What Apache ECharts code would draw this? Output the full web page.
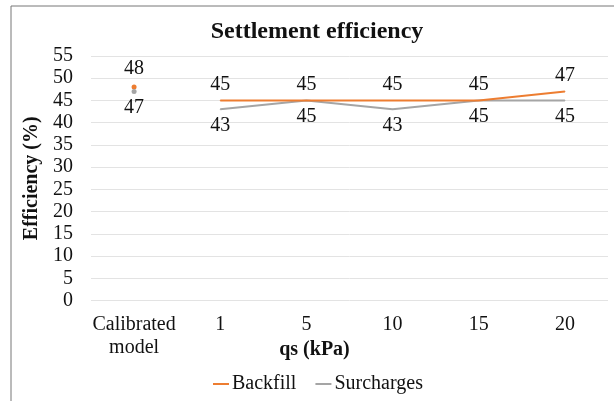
<!DOCTYPE html>
<html>
<head>
<meta charset="utf-8">
<script src="https://cdn.jsdelivr.net/npm/echarts@6/dist/echarts.min.js"></script>
<style>
  html, body { margin: 0; padding: 0; background: #fff; }
  #chart { width: 614px; height: 401px; }
</style>
</head>
<body>
<div id="chart"></div>
<script>
// Settlement efficiency versus surcharge pressure qs
const categories = ['Calibrated\nmodel', '1', '5', '10', '15', '20'];
const backfill = ['-', 45, 45, 45, 45, 47];
const surcharges = ['-', 43, 45, 43, 45, 45];
const calibratedBackfill = [48, '-', '-', '-', '-', '-'];
const calibratedSurcharges = [47, '-', '-', '-', '-', '-'];
const yTicks = { min: 0, max: 55, step: 5 };

const FONT = '"Liberation Serif", "Times New Roman", serif';
const ORANGE = '#ED7D31';
const GREY = '#A5A5A5';
const INK = '#111';

const chart = echarts.init(document.getElementById('chart'), null, { renderer: 'canvas' });

const labelStyle = (pos, dist) => ({
  show: true,
  position: pos,
  distance: dist,
  fontFamily: FONT,
  fontSize: 20,
  color: INK,
  opacity: 1
});

chart.setOption({
  animation: false,
  backgroundColor: '#fff',
  graphic: [{
    type: 'rect',
    shape: { x: 11, y: 6, width: 700, height: 500 },
    style: { fill: 'none', stroke: '#767676', lineWidth: 1 },
    z: -10,
    silent: true
  }],
  title: {
    text: 'Settlement efficiency',
    left: 312,
    textAlign: 'center',
    top: 15,
    textStyle: { fontFamily: FONT, fontSize: 24, fontWeight: 'bold', color: INK }
  },
  legend: {
    data: ['Backfill', 'Surcharges'],
    left: 213,
    top: 374,
    padding: 0,
    icon: 'rect',
    itemWidth: 16,
    itemHeight: 2,
    itemGap: 19,
    textStyle: { fontFamily: FONT, fontSize: 20, color: INK, padding: [0, 0, 0, -2] }
  },
  grid: { left: 91, right: 6, top: 56, bottom: 100.5 },
  xAxis: {
    type: 'category',
    data: categories,
    boundaryGap: true,
    name: 'qs (kPa)',
    nameLocation: 'middle',
    nameGap: 39,
    nameMoveOverlap: false,
    nameTextStyle: { fontFamily: FONT, fontSize: 20, fontWeight: 'bold', color: INK, padding: [0, 70, 0, 0] },
    axisLine: { show: false },
    axisTick: { show: false },
    axisLabel: { fontFamily: FONT, fontSize: 20, color: INK, margin: 13, lineHeight: 23, interval: 0 }
  },
  yAxis: {
    type: 'value',
    min: yTicks.min,
    max: yTicks.max,
    interval: yTicks.step,
    name: 'Efficiency (%)',
    nameLocation: 'middle',
    nameGap: 47,
    nameTextStyle: { fontFamily: FONT, fontSize: 20, fontWeight: 'bold', color: INK },
    axisLine: { show: false },
    axisTick: { show: false },
    axisLabel: { fontFamily: FONT, fontSize: 20, color: INK, margin: 18 },
    splitLine: { lineStyle: { color: '#E3E3E3', width: 1 } }
  },
  series: [
    {
      name: 'Backfill',
      type: 'line',
      data: backfill,
      color: ORANGE,
      lineStyle: { color: ORANGE, width: 2 },
      symbol: 'circle',
      symbolSize: 1,
      itemStyle: { color: ORANGE },
      label: labelStyle('top', 5),
      z: 3
    },
    {
      name: 'Surcharges',
      type: 'line',
      data: surcharges,
      color: GREY,
      lineStyle: { color: GREY, width: 2 },
      symbol: 'circle',
      symbolSize: 1,
      itemStyle: { color: GREY },
      label: labelStyle('bottom', 6),
      z: 2
    },
    {
      name: 'Backfill (calibrated)',
      type: 'scatter',
      data: calibratedBackfill,
      symbol: 'circle',
      symbolSize: 5,
      itemStyle: { color: ORANGE, opacity: 1 },
      label: labelStyle('top', 6),
      z: 3
    },
    {
      name: 'Surcharges (calibrated)',
      type: 'scatter',
      data: calibratedSurcharges,
      symbol: 'circle',
      symbolSize: 5,
      itemStyle: { color: GREY, opacity: 1 },
      label: labelStyle('bottom', 4),
      z: 4
    }
  ]
});
</script>
</body>
</html>
